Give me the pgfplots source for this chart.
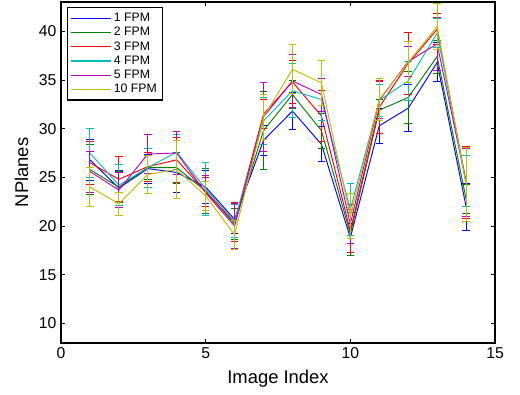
\documentclass[border=0pt]{standalone}
\usepackage{fontspec}
\setmainfont{Liberation Sans}
\usepackage{pgfplots}
\usepackage{pgfplotstable}
\pgfplotsset{compat=1.18}
\definecolor{mblue}{rgb}{0,0,1}
\definecolor{mgreen}{rgb}{0,0.5,0}
\definecolor{mred}{rgb}{1,0,0}
\definecolor{mcyan}{rgb}{0,0.75,0.75}
\definecolor{mmag}{rgb}{0.75,0,0.75}
\definecolor{myel}{rgb}{0.75,0.75,0}
\pgfplotstableread{
x  b    be   g    ge   r    re   c    ce   m    me   y    ye
1  26.8 2.1  25.8 2.6  26.5 2.2  27.5 2.5  25.6 2.1  24.0 2.0
2  23.9 1.8  24.0 1.6  24.8 2.3  24.2 2.1  23.7 1.8  22.3 1.2
3  25.9 1.5  26.0 1.2  26.1 1.5  26.0 2.0  27.4 2.0  25.3 2.0
4  25.5 2.1  26.0 1.6  26.8 2.3  27.6 1.8  27.5 2.2  25.8 3.0
5  24.0 1.7  23.6 2.3  23.5 1.5  23.8 2.7  23.4 1.8  23.1 1.5
6  20.7 1.5  20.2 1.6  20.4 2.0  20.5 1.7  20.0 2.3  19.1 1.5
7  28.8 1.5  29.8 4.0  31.5 1.5  30.8 2.4  31.2 3.5  31.2 2.3
8  31.8 1.9  33.5 1.4  34.8 2.2  33.9 2.8  34.9 2.7  36.1 2.5
9  28.4 1.8  29.8 1.8  31.3 2.6  33.0 2.2  33.5 1.7  34.7 2.3
10 18.8 1.5  19.2 2.2  19.5 2.2  21.7 2.7  20.2 2.0  21.0 2.3
11 30.3 1.8  31.9 1.1  32.2 2.7  32.9 1.6  32.9 1.9  33.0 2.2
12 32.1 2.4  33.2 2.7  36.7 3.2  34.9 2.0  36.9 1.5  36.8 2.1
13 36.8 2.0  37.4 1.7  40.2 1.6  39.8 1.5  38.7 2.7  40.5 2.4
14 22.0 2.4  22.8 1.5  24.5 3.7  24.6 2.6  24.5 3.5  24.3 3.8
}\data
\pgfplotsset{
  eb/.style={forget plot, color=#1, line width=0.7pt, mark=none,
    error bars/.cd, y dir=both, y explicit,
    error bar style={color=#1, line width=0.7pt},
    error mark options={color=#1, line width=0.7pt, mark size=2.8pt, rotate=90}},
}
\begin{document}
\begin{tikzpicture}
\begin{axis}[
  scale only axis,
  width=325.5pt, height=255.75pt,
  xmin=0, xmax=15, ymin=8, ymax=43,
  xtick={0,5,10,15}, ytick={10,15,20,25,30,35,40},
  tick align=inside, major tick length=3pt,
  tick style={black, line width=0.5pt},
  axis line style={line width=0.8pt},
  /pgf/number format/assume math mode=true,
  ticklabel style={font=\fontsize{11.8}{13}\selectfont},
  xlabel={Image Index}, ylabel={NPlanes},
  label style={font=\fontsize{13.8}{16}\selectfont},
  xlabel style={yshift=-1.5pt},
  ylabel style={yshift=1pt},
  legend cell align=left,
  legend style={at={(0.0138,0.985)}, anchor=north west, draw=black, line width=0.8pt,
    font=\fontsize{9.2}{11}\selectfont, row sep=-1.2pt, inner sep=2pt},
  legend image code/.code={\draw[#1] (0cm,0cm) -- (1.05cm,0cm);},
]
\addlegendimage{color=mblue, line width=0.9pt}\addlegendentry{1 FPM}
\addlegendimage{color=mgreen, line width=0.9pt}\addlegendentry{2 FPM}
\addlegendimage{color=mred, line width=0.9pt}\addlegendentry{3 FPM}
\addlegendimage{color=mcyan, line width=0.9pt}\addlegendentry{4 FPM}
\addlegendimage{color=mmag, line width=0.9pt}\addlegendentry{5 FPM}
\addlegendimage{color=myel, line width=0.9pt}\addlegendentry{10 FPM}
\addplot[eb=mblue] table[x=x,y=b,y error=be]{\data};
\addplot[eb=mgreen] table[x=x,y=g,y error=ge]{\data};
\addplot[eb=mred] table[x=x,y=r,y error=re]{\data};
\addplot[eb=mcyan] table[x=x,y=c,y error=ce]{\data};
\addplot[eb=mmag] table[x=x,y=m,y error=me]{\data};
\addplot[eb=myel] table[x=x,y=y,y error=ye]{\data};
\end{axis}
\pgfresetboundingbox
\path ([shift={(-45.75pt,-38.25pt)}]current axis.south west) rectangle ([shift={(18.75pt,1.5pt)}]current axis.north east);
\end{tikzpicture}
\end{document}
